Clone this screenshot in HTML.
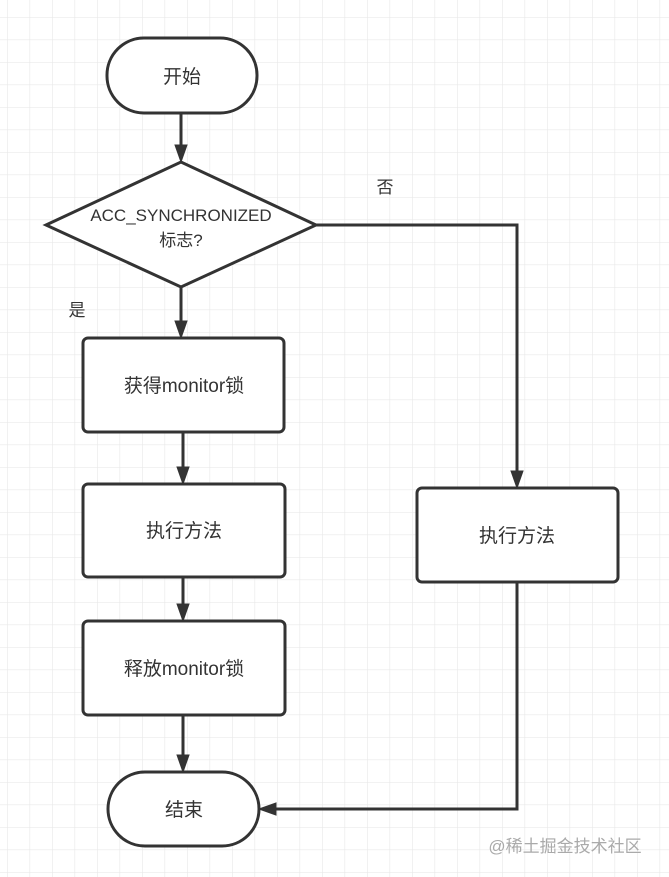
<!DOCTYPE html>
<html><head><meta charset="utf-8"><style>
html,body{margin:0;padding:0;background:#fff;}
svg{display:block;}
text{font-family:"Liberation Sans","Noto Sans CJK SC",sans-serif;fill:#333;}
</style></head><body>
<svg width="669" height="877" viewBox="0 0 669 877" xmlns="http://www.w3.org/2000/svg">
<defs>
<pattern id="g" x="7" y="17" width="22.5" height="22.5" patternUnits="userSpaceOnUse">
<path d="M0 0H22.5M0 0V22.5" stroke="#e9e9e9" stroke-width="1.3" fill="none"/>
</pattern>
<marker id="a" markerWidth="10" markerHeight="10" refX="8" refY="5" orient="auto" markerUnits="userSpaceOnUse">
<path d="M0 0L9 5L0 10Z" fill="#333"/>
</marker>
</defs>
<rect width="669" height="877" fill="url(#g)"/>
<g stroke="#333" stroke-width="3" fill="#fff">
<rect x="107" y="38" width="150" height="75" rx="37"/>
<path d="M46 225L181 162L316 225L181 287Z"/>
<rect x="83" y="338" width="201" height="94" rx="5"/>
<rect x="83" y="484" width="202" height="93" rx="5"/>
<rect x="83" y="621" width="202" height="94" rx="5"/>
<rect x="108" y="772" width="151" height="74" rx="37"/>
<rect x="417" y="488" width="201" height="94" rx="5"/>
</g>
<g stroke="#333" stroke-width="3" fill="none">
<path d="M181 113V145"/><path d="M181 145L175 145L181 162L187 145Z" fill="#333" stroke-width="1"/>
<path d="M181 287V321"/><path d="M175 321L181 338L187 321Z" fill="#333" stroke-width="1"/>
<path d="M183 432V467"/><path d="M177 467L183 484L189 467Z" fill="#333" stroke-width="1"/>
<path d="M183 577V604"/><path d="M177 604L183 621L189 604Z" fill="#333" stroke-width="1"/>
<path d="M183 715V755"/><path d="M177 755L183 772L189 755Z" fill="#333" stroke-width="1"/>
<path d="M316 225H517V471"/><path d="M511 471L517 488L523 471Z" fill="#333" stroke-width="1"/>
<path d="M517 582V809H276"/><path d="M276 803L259 809L276 815Z" fill="#333" stroke-width="1"/>
</g>
<g font-size="19" text-anchor="middle">
<text x="182" y="83">开始</text>
<text x="181" y="221" font-size="17">ACC_SYNCHRONIZED</text>
<text x="181" y="246" font-size="17">标志?</text>
<text x="184" y="392">获得monitor锁</text>
<text x="184" y="537">执行方法</text>
<text x="184" y="675">释放monitor锁</text>
<text x="184" y="816">结束</text>
<text x="517" y="542">执行方法</text>
<text x="385" y="193" font-size="17">否</text>
<text x="77" y="316" font-size="17">是</text>
</g>
<text x="565" y="852" font-size="17" text-anchor="middle" style="fill:#aaa">@稀土掘金技术社区</text>
</svg>
</body></html>
